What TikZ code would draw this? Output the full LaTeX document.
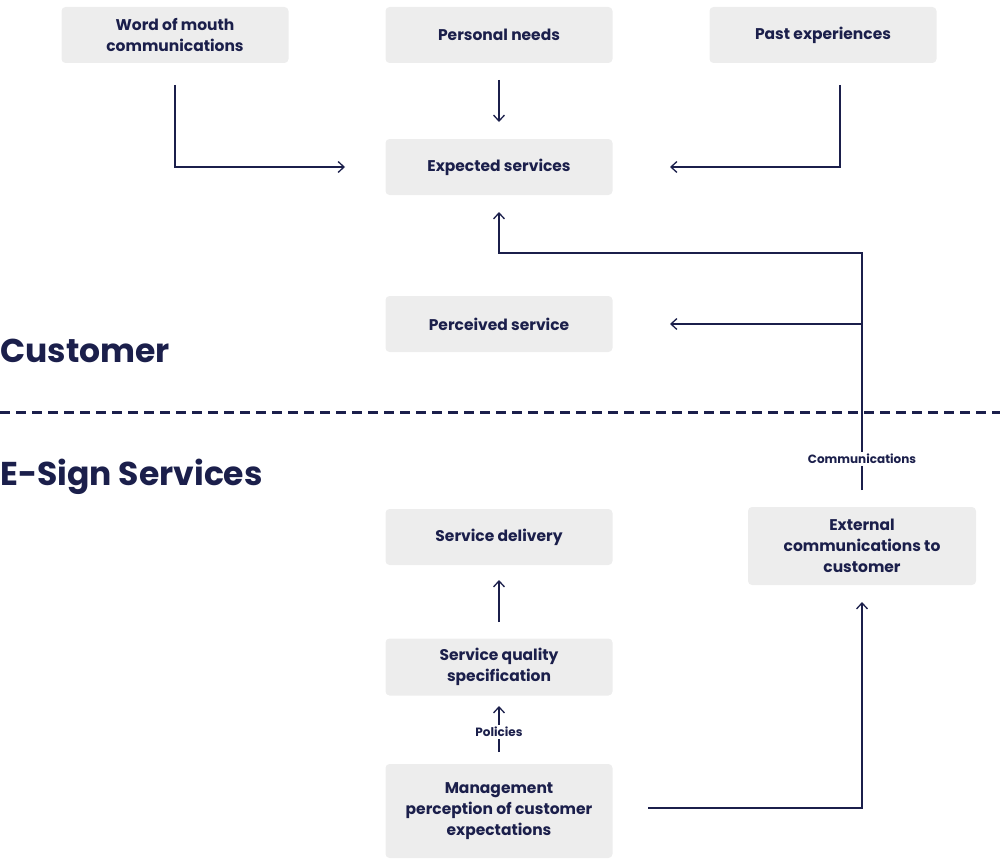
\documentclass[tikz,border=0pt]{standalone}
\usepackage{fontspec}
\setmainfont{Poppins}
\usetikzlibrary{arrows.meta}
\definecolor{navy}{HTML}{1B1F4B}
\definecolor{boxg}{HTML}{EDEDED}
\begin{document}
\begin{tikzpicture}[x=1pt,y=-1pt,
 box/.style={fill=boxg,rounded corners=4pt,minimum width=227pt,inner sep=0pt,text=navy,align=center,font=\fontsize{15.5}{21}\selectfont\bfseries},
 arr/.style={draw=navy,line width=1.3pt,-{Straight Barb[length=6pt,width=11pt]}},
 lab/.style={fill=white,text=navy,font=\fontsize{12}{14}\selectfont\bfseries,inner sep=2pt},
 head/.style={text=navy,anchor=west,inner sep=0pt,font=\fontsize{33}{36}\selectfont\bfseries}]
\useasboundingbox (0,0) rectangle (1000,864);
\node[box,minimum height=56pt] (wom) at (175,35) {Word of mouth\\communications};
\node[box,minimum height=56pt] (pn) at (499,35) {Personal needs};
\node[box,minimum height=56pt] (pe) at (823,35) {Past experiences};
\node[box,minimum height=56pt] (es) at (499,167) {Expected services};
\node[box,minimum height=56pt] (ps) at (499,324) {Perceived service};
\node[box,minimum height=56pt] (sd) at (499,537) {Service delivery};
\node[box,minimum height=78pt,minimum width=228pt] (ec) at (862,546) {External\\communications to\\customer};
\node[box,minimum height=57pt] (sq) at (499,667) {Service quality\\specification};
\node[box,minimum height=94pt] (mp) at (499,811) {Management\\perception of customer\\expectations};
\node[head] (cu) at (0,351) {Customer};
\node[head] (esg) at (0,477) {E-Sign Services};
\draw[navy,line width=3pt,dash pattern=on 10pt off 6pt] (0,412) -- (1000,412);
\coordinate (w1) at (175,85); \coordinate (w2) at (345,167);
\draw[arr] (w1) |- (w2);
\coordinate (p1) at (499,80); \coordinate (p2) at (499,122);
\draw[arr] (p1) -- (p2);
\coordinate (e1) at (840,85); \coordinate (e2) at (670,167);
\draw[arr] (e1) |- (e2);
\node[lab] (com) at (862,459) {Communications};
\coordinate (c1) at (862,490); \coordinate (c2) at (862,253); \coordinate (c3) at (499,253); \coordinate (c4) at (499,212);
\draw[navy,line width=1.3pt] (c1) -- (com.south);
\draw[arr] (com.north) -- (c2) -- (c3) -- (c4);
\coordinate (b1) at (862,324); \coordinate (b2) at (670,324);
\draw[arr] (b1) -- (b2);
\coordinate (q1) at (499,622); \coordinate (q2) at (499,580);
\draw[arr] (q1) -- (q2);
\node[lab] (pol) at (499,732) {Policies};
\coordinate (m1) at (499,752); \coordinate (m2) at (499,706);
\draw[navy,line width=1.3pt] (m1) -- (pol.south);
\draw[arr] (pol.north) -- (m2);
\coordinate (x1) at (648,808); \coordinate (x2) at (862,602);
\draw[arr] (x1) -| (x2);
\end{tikzpicture}
\end{document}
